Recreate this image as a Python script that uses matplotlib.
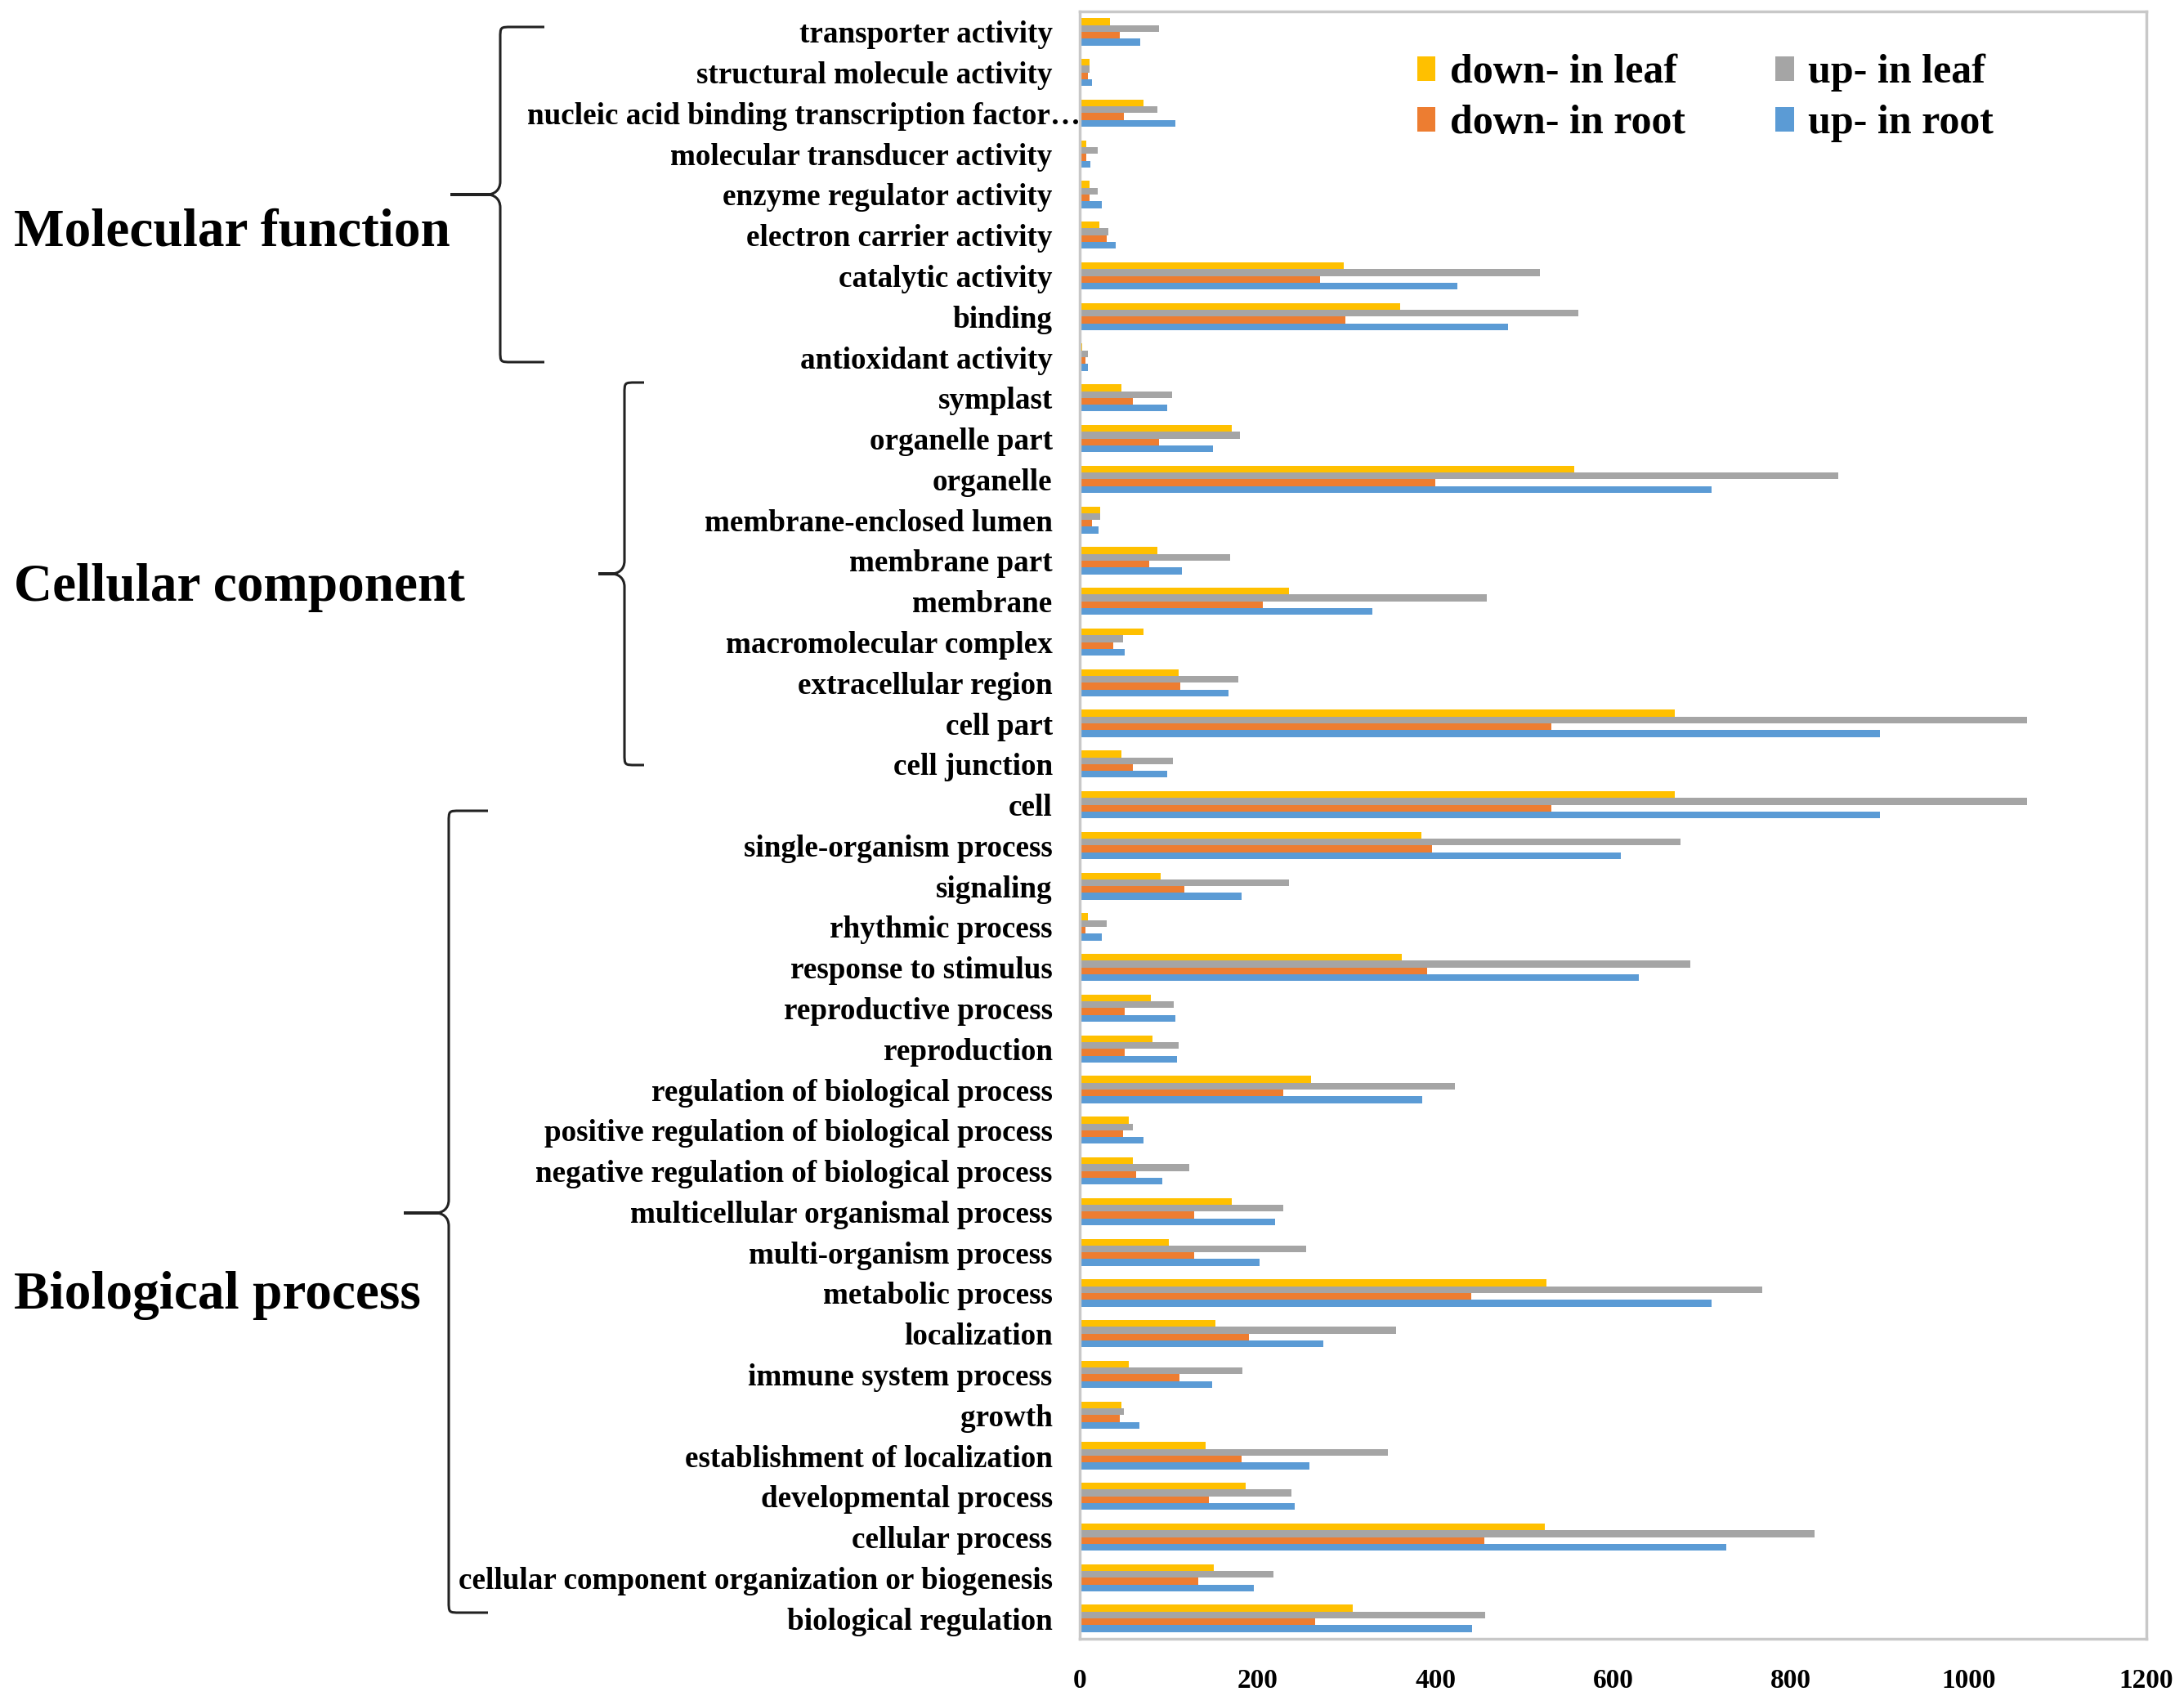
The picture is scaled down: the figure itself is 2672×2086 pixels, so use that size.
import numpy as np
import matplotlib
matplotlib.use('Agg')
import matplotlib.pyplot as plt
from matplotlib.path import Path
from matplotlib.patches import PathPatch
import matplotlib.transforms as mtransforms

plt.rcParams['font.family'] = ['Liberation Serif', 'DejaVu Serif']
plt.rcParams['font.weight'] = 'bold'

# GO terms, listed top to bottom as in the figure
terms = [
    'transporter activity', 'structural molecule activity',
    'nucleic acid binding transcription factor\u2026', 'molecular transducer activity',
    'enzyme regulator activity', 'electron carrier activity', 'catalytic activity',
    'binding', 'antioxidant activity',
    'symplast', 'organelle part', 'organelle', 'membrane-enclosed lumen',
    'membrane part', 'membrane', 'macromolecular complex', 'extracellular region',
    'cell part', 'cell junction',
    'cell', 'single-organism process', 'signaling', 'rhythmic process',
    'response to stimulus', 'reproductive process', 'reproduction',
    'regulation of biological process', 'positive regulation of biological process',
    'negative regulation of biological process', 'multicellular organismal process',
    'multi-organism process', 'metabolic process', 'localization',
    'immune system process', 'growth', 'establishment of localization',
    'developmental process', 'cellular process',
    'cellular component organization or biogenesis', 'biological regulation',
]

down_leaf = [34, 11, 72, 7, 11, 22, 297, 360, 3,
             47, 171, 556, 23, 87, 235, 72, 111, 669, 47,
             669, 384, 91, 9, 362, 80, 82, 260, 55, 60, 171,
             100, 525, 153, 55, 47, 142, 187, 523, 151, 307]
up_leaf = [89, 11, 87, 20, 20, 32, 518, 561, 9,
           104, 180, 853, 23, 169, 458, 49, 178, 1066, 105,
           1066, 676, 235, 30, 687, 106, 111, 422, 60, 123, 229,
           255, 768, 356, 183, 50, 347, 238, 827, 218, 456]
down_root = [45, 9, 50, 7, 11, 30, 270, 299, 6,
             60, 89, 400, 14, 78, 206, 38, 113, 531, 60,
             531, 396, 118, 6, 391, 51, 51, 229, 49, 63, 129,
             129, 440, 190, 112, 45, 182, 145, 455, 133, 265]
up_root = [68, 14, 108, 12, 25, 40, 425, 482, 9,
           98, 150, 711, 21, 115, 329, 51, 167, 900, 98,
           900, 609, 182, 25, 629, 108, 109, 385, 72, 93, 220,
           202, 711, 274, 149, 67, 258, 242, 727, 196, 441]

groups = ['Molecular function', 'Cellular component', 'Biological process']

series = [
    ('down- in leaf', down_leaf, '#FFC000'),
    ('up- in leaf', up_leaf, '#A5A5A5'),
    ('down- in root', down_root, '#ED7D31'),
    ('up- in root', up_root, '#5B9BD5'),
]

W, H = 2672, 2086
fig = plt.figure(figsize=(W / 100, H / 100), dpi=100)
ax = fig.add_axes([1321 / W, 1 - 2005 / H, (2626 - 1321) / W, (2005 - 14) / H])

n = len(terms)
y = np.arange(n)[::-1]  # first term on top
h = 0.167
offsets = [1.5 * h, 0.5 * h, -0.5 * h, -1.5 * h]
bars = {}
for (name, vals, col), off in zip(series, offsets):
    bars[name] = ax.barh(y + off, vals, height=h, color=col, label=name)

ax.set_xlim(0, 1200)
ax.set_ylim(-0.5, n - 0.5)
ax.set_xticks(range(0, 1201, 200))
ax.set_yticks(y)
ax.set_yticklabels(terms)
ax.tick_params(axis='y', length=0, pad=24, labelsize=26.7)
ax.tick_params(axis='x', length=0, pad=26, labelsize=24)
for s in ax.spines.values():
    s.set_color('#C8C8C8')
    s.set_linewidth(2.5)

# the truncated label runs up to the axis in the original
lbl = ax.get_yticklabels()[2]
lbl.set_transform(lbl.get_transform() + mtransforms.ScaledTranslation(0.34, 0, fig.dpi_scale_trans))

# legend: two columns, down on the left, up on the right
order = ['down- in leaf', 'down- in root', 'up- in leaf', 'up- in root']
ax.legend([bars[k] for k in order], order, ncol=2, frameon=False,
          loc='upper left', bbox_to_anchor=(1709 / W, 1 - 41 / H),
          bbox_transform=fig.transFigure, fontsize=36, borderpad=0,
          handlelength=0.45, handleheight=0.55, handletextpad=0.35,
          columnspacing=2.2, labelspacing=0.32)


def brace(xv, xe, xt, ytop, ybot, ymid, r=14, d=16):
    pts = [(xe, ytop), (xv + r, ytop), (xv, ytop), (xv, ytop), (xv, ytop + r),
           (xv, ymid - d), (xv, ymid - 0.3 * d), (xv - 0.5 * d, ymid), (xv - d, ymid),
           (xt, ymid), (xv - d, ymid),
           (xv - 0.5 * d, ymid), (xv, ymid + 0.3 * d), (xv, ymid + d),
           (xv, ybot - r), (xv, ybot), (xv, ybot), (xv + r, ybot), (xe, ybot)]
    codes = [Path.MOVETO, Path.LINETO, Path.CURVE4, Path.CURVE4, Path.CURVE4,
             Path.LINETO, Path.CURVE4, Path.CURVE4, Path.CURVE4,
             Path.LINETO, Path.LINETO,
             Path.CURVE4, Path.CURVE4, Path.CURVE4,
             Path.LINETO, Path.CURVE4, Path.CURVE4, Path.CURVE4, Path.LINETO]
    verts = [(px / W, 1 - py / H) for px, py in pts]
    fig.add_artist(PathPatch(Path(verts, codes), transform=fig.transFigure,
                             fill=False, lw=2.2, color='#222222'))


brace(612, 666, 551, 33, 443, 238)
brace(764, 788, 732, 468, 936, 702)
brace(549, 597, 494, 992, 1973, 1484)

for g, yy in zip(groups, [0.856, 0.6477, 0.2325]):
    fig.text(17 / W, yy, g, fontsize=47, fontweight='bold', va='baseline', ha='left')

fig.savefig('out.png', dpi=100, facecolor='white')
